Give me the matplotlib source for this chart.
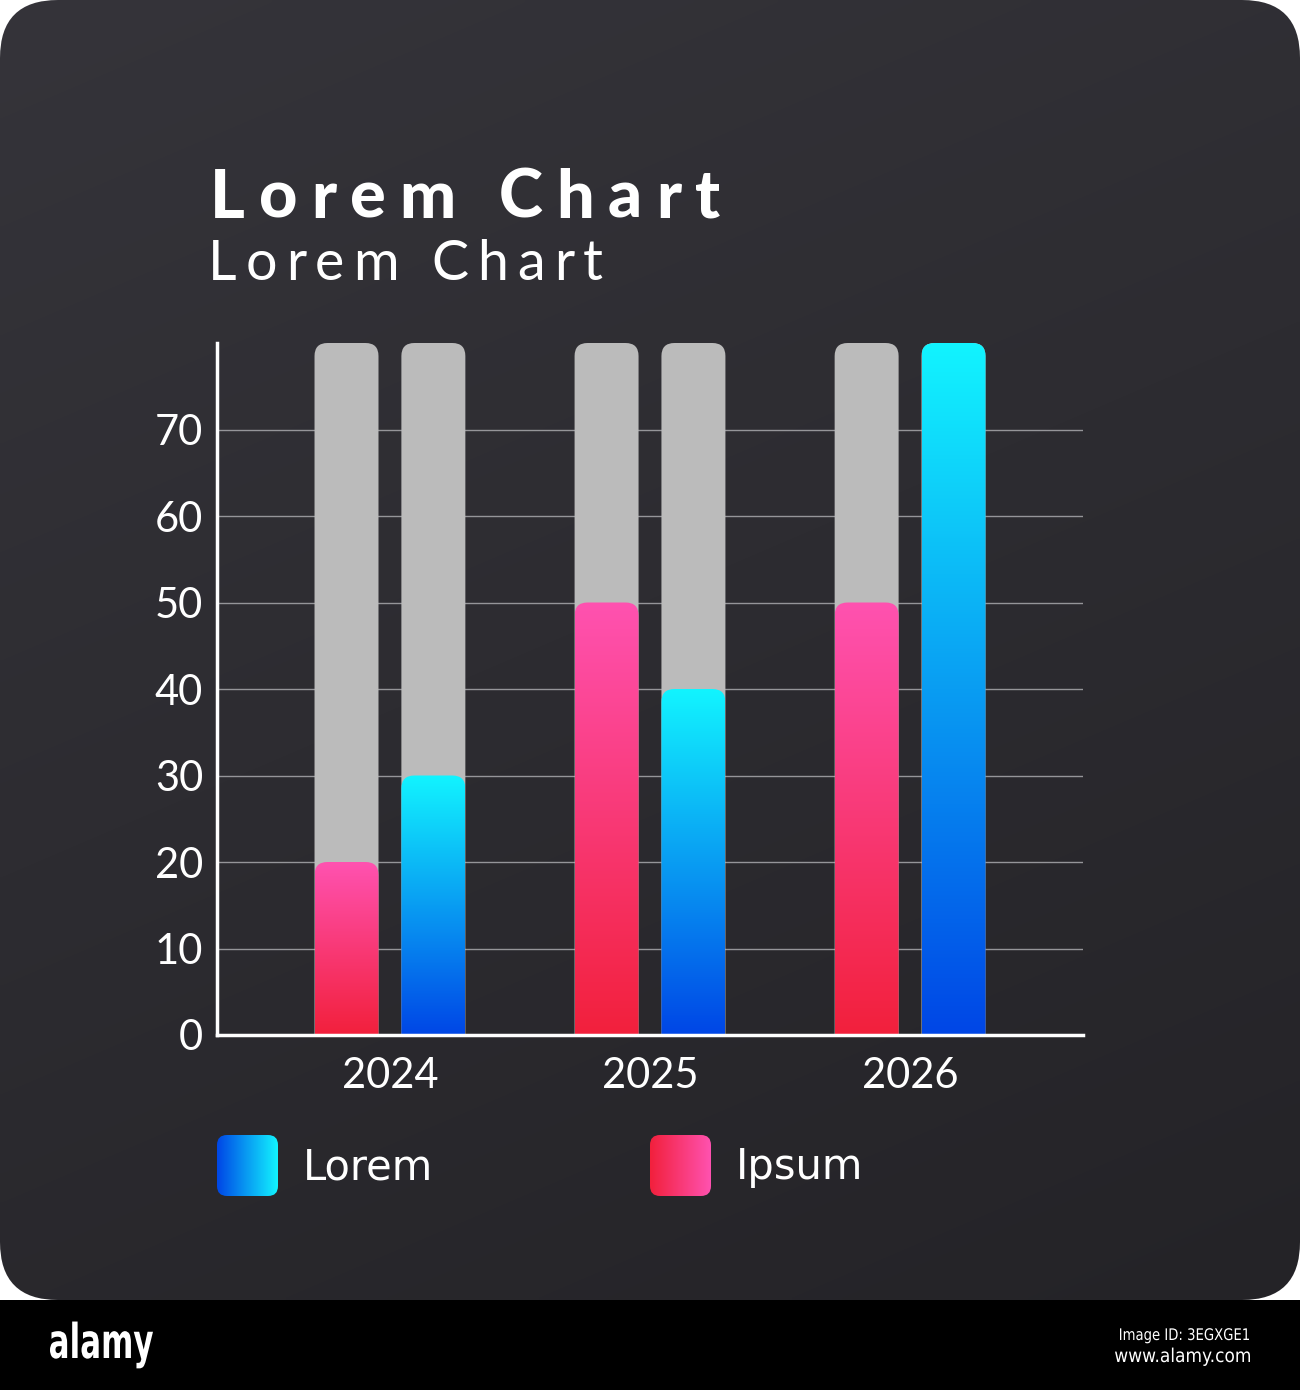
import numpy as np
import matplotlib.pyplot as plt
from matplotlib.patches import FancyBboxPatch, Rectangle, PathPatch
from matplotlib.colors import LinearSegmentedColormap
from matplotlib.textpath import TextPath
from matplotlib.transforms import Affine2D
from matplotlib import font_manager
from matplotlib.ft2font import FT2Font

# Data
years = ['2024', '2025', '2026']
ipsum = [20, 50, 50]
lorem = [30, 40, 80]
track = [80, 80, 80]
y_ticks = [0, 10, 20, 30, 40, 50, 60, 70]
legend_labels = ['Lorem', 'Ipsum']
title = 'Lorem Chart'
subtitle = 'Lorem Chart'

W, H = 1300, 1390
DPI = 100
FONT = 'Lato'

# gradient colours (bottom, top)
pink = ('#f2203c', '#ff52b0')
blue = ('#0046e6', '#12f4ff')
gray = '#bbbbbb'


def spaced_text(ax, x, y, s, size, weight, width, **kw):
    # draw text char by char with letter spacing so it spans `width` px
    path = font_manager.findfont(font_manager.FontProperties(family=FONT, weight=weight))
    ft = FT2Font(path)
    ft.set_size(size, DPI)
    adv = [ft.load_char(ord(c)).linearHoriAdvance / 65536 for c in s]
    tracking = (width - sum(adv)) / (len(s) - 1)
    for c, a in zip(s, adv):
        ax.text(x, y, c, fontsize=size, fontweight=weight, family=FONT,
                ha='left', va='baseline', **kw)
        x += a + tracking


def narrow_text(ax, x, y, s, em_px, width, ha='left', weight='normal'):
    # condensed text: squeeze a text path to a given width (y axis points down)
    tp = TextPath((0, 0), s, size=em_px,
                  prop=font_manager.FontProperties(family='DejaVu Sans', weight=weight))
    ext = tp.get_extents()
    sx = width / ext.width
    x0 = x - width if ha == 'right' else x
    tr = Affine2D().translate(-ext.x0, 0).scale(sx, -1).translate(x0, y)
    ax.add_patch(PathPatch(tr.transform_path(tp), fc='white', ec='none', lw=0))


fig = plt.figure(figsize=(W / DPI, H / DPI), dpi=DPI)
fig.patch.set_facecolor('white')

# background card (pixel coordinates, y down)
bg = fig.add_axes([0, 0, 1, 1])
bg.axis('off')
card = FancyBboxPatch((0, 0), W, 1300, boxstyle='round,pad=0,rounding_size=58',
                      fc='none', ec='none')
bg.add_patch(card)
yy, xx = np.mgrid[0:1:300j, 0:1:300j]
shade = 0.3 * xx + 0.7 * yy
card_cmap = LinearSegmentedColormap.from_list('card', ['#35343a', '#242327'])
bg.imshow(shade, cmap=card_cmap, extent=[0, W, 1300, 0], aspect='auto',
          clip_path=card, interpolation='bilinear')
bg.add_patch(Rectangle((0, 1300), W, 90, fc='black', ec='none'))

# titles
spaced_text(bg, 210, 218, title, 48, 'black', 510, color='white')
spaced_text(bg, 208, 280, subtitle, 40, 'normal', 395, color='white')

# legend
legend_colors = [blue, pink]
legend_x = [217, 650]
for lab, cols, lx in zip(legend_labels, legend_colors, legend_x):
    sq = FancyBboxPatch((lx, 1135), 61, 61, boxstyle='round,pad=0,rounding_size=10',
                        fc='none', ec='none')
    bg.add_patch(sq)
    cm = LinearSegmentedColormap.from_list('leg', cols)
    bg.imshow(np.linspace(0, 1, 256).reshape(1, -1), cmap=cm,
              extent=[lx, lx + 61, 1196, 1135], aspect='auto', clip_path=sq,
              interpolation='bilinear')
    bg.text(lx + 86, 1179, lab, fontsize=30, family='DejaVu Sans', color='white',
            va='baseline')

# footer
narrow_text(bg, 50, 1358, 'alamy', 48, 103, weight='bold')
narrow_text(bg, 1249, 1340, 'Image ID: 3EGXGE1', 16, 129, ha='right')
narrow_text(bg, 1250, 1362, 'www.alamy.com', 19, 135, ha='right')
bg.set_xlim(0, W)
bg.set_ylim(H, 0)

# chart axes
ax_w, ax_h = 866, 692
ax = fig.add_axes([217 / W, 1 - 1035 / H, ax_w / W, ax_h / H])
ax.patch.set_alpha(0)
xlim = (-0.665, 2.665)
ylim = (0, 80)
x = np.arange(len(years))
off, bw = 0.167, 0.246

px_x = ax_w / (xlim[1] - xlim[0])
px_y = ax_h / (ylim[1] - ylim[0])
asp = px_x / px_y
rx = 13 / px_x


def rounded(rect, **kw):
    x0, w, h = rect.get_x(), rect.get_width(), rect.get_height()
    p = FancyBboxPatch((x0, -3), w, h + 3, boxstyle=f'round,pad=0,rounding_size={rx}',
                       mutation_aspect=asp, **kw)
    ax.add_patch(p)
    return p


def grad_bar(rect, cols):
    p = rounded(rect, fc='none', ec='none')
    cm = LinearSegmentedColormap.from_list('g', cols)
    x0, w, h = rect.get_x(), rect.get_width(), rect.get_height()
    ax.imshow(np.linspace(1, 0, 256).reshape(-1, 1), cmap=cm, extent=[x0, x0 + w, 0, h],
              aspect='auto', clip_path=p, zorder=2, interpolation='bilinear')


track_l = ax.bar(x - off, track, bw, color='none')
track_r = ax.bar(x + off, track, bw, color='none')
bars_i = ax.bar(x - off, ipsum, bw, color='none')
bars_l = ax.bar(x + off, lorem, bw, color='none')

for r in list(track_l) + list(track_r):
    rounded(r, fc=gray, ec='none', zorder=1)
for r in bars_i:
    grad_bar(r, pink)
for r in bars_l:
    grad_bar(r, blue)

ax.set_xlim(*xlim)
ax.set_ylim(*ylim)
ax.set_xticks(x, years)
ax.set_yticks(y_ticks)
ax.grid(axis='y', color='#959599', lw=1)
ax.grid(axis='x', visible=False)
ax.set_axisbelow(True)
for s in ['top', 'right']:
    ax.spines[s].set_visible(False)
for s in ['left', 'bottom']:
    ax.spines[s].set_color('white')
    ax.spines[s].set_linewidth(2.5)
    ax.spines[s].set_zorder(3)
ax.tick_params(axis='both', length=0, labelcolor='white', labelsize=30)
ax.tick_params(axis='y', pad=10)
ax.tick_params(axis='x', pad=16)
for lbl in ax.get_xticklabels() + ax.get_yticklabels():
    lbl.set_fontfamily(FONT)

fig.savefig('out.png', dpi=DPI, facecolor='white')
